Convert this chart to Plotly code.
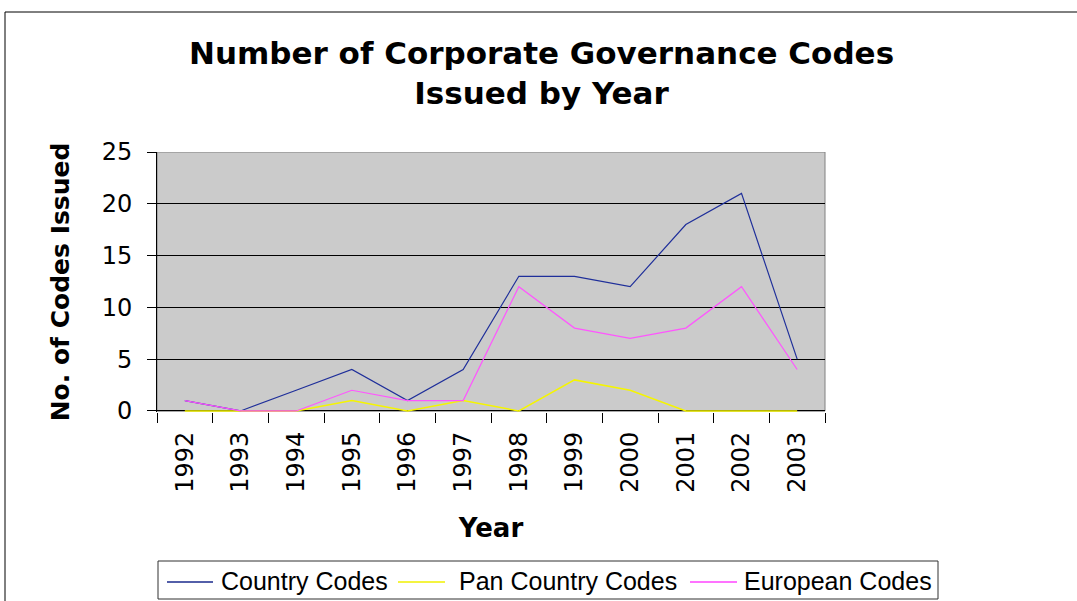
import plotly.graph_objects as go

years = ["1992", "1993", "1994", "1995", "1996", "1997", "1998", "1999", "2000", "2001", "2002", "2003"]
country_codes = [1, 0, 2, 4, 1, 4, 13, 13, 12, 18, 21, 5]
pan_country_codes = [0, 0, 0, 1, 0, 1, 0, 3, 2, 0, 0, 0]
european_codes = [1, 0, 0, 2, 1, 1, 12, 8, 7, 8, 12, 4]
series_names = ["Country Codes", "Pan Country Codes", "European Codes"]
series_colors = ["#1f2f9a", "#f5f500", "#ff55ff"]
legend_colors = ["#1a2a8c", "#f0f000", "#ff44ff"]

W, H = 1077, 601
L, R, T, B = 157, 825, 152, 412

def px_x(px):
    return (px - L) / (R - L)

def px_y(py):
    return (B - py) / (B - T)

fig = go.Figure()
for name, vals, col, w in zip(series_names, [country_codes, pan_country_codes, european_codes],
                              series_colors, [1.2, 1.5, 1.2]):
    fig.add_trace(go.Scatter(x=years, y=vals, mode="lines", name=name,
                             line=dict(color=col, width=w)))

font = "DejaVu Sans, Arial, sans-serif"
lfont = "Liberation Sans, Arial, sans-serif"

# manual legend (box spanning wider than the plot area, as in the reference)
leg_top, leg_bot, leg_left, leg_right = 561, 599, 158, 938
leg_line_x = [(167, 213), (398, 445), (690, 737)]
leg_text_x = [219, 457, 742]
leg_y = 581

shapes = [
    dict(type="rect", xref="paper", yref="y", x0=0, x1=1, y0=0, y1=25,
         line=dict(color="#808080", width=1), layer="below"),
    dict(type="line", xref="paper", yref="paper", x0=px_x(5), x1=px_x(5), y0=px_y(12), y1=px_y(601),
         line=dict(color="black", width=1)),
    dict(type="line", xref="paper", yref="paper", x0=px_x(5), x1=px_x(1077), y0=px_y(12), y1=px_y(12),
         line=dict(color="black", width=1)),
    dict(type="rect", xref="paper", yref="paper", x0=px_x(leg_left), x1=px_x(leg_right),
         y0=px_y(leg_bot), y1=px_y(leg_top), line=dict(color="#303030", width=1), fillcolor="white"),
]
annotations = [
    dict(text="<b>Number of Corporate Governance Codes<br>Issued by Year</b>",
         xref="paper", yref="paper", x=px_x(541), y=px_y(33), xanchor="center", yanchor="top",
         showarrow=False, font=dict(size=31, family=font)),
]
for (x0, x1), tx, name, col in zip(leg_line_x, leg_text_x, series_names, legend_colors):
    shapes.append(dict(type="line", xref="paper", yref="paper", x0=px_x(x0), x1=px_x(x1),
                       y0=px_y(leg_y + 1), y1=px_y(leg_y + 1), line=dict(color=col, width=1.3)))
    annotations.append(dict(text=name, xref="paper", yref="paper", x=px_x(tx), y=px_y(leg_y),
                            xanchor="left", yanchor="middle", showarrow=False,
                            font=dict(size=25, family=lfont, color="black")))

fig.update_layout(
    width=W, height=H,
    margin=dict(l=L, r=W - R, t=T, b=H - B, pad=0, autoexpand=False),
    paper_bgcolor="white",
    plot_bgcolor="#cbcbcb",
    font=dict(family=font, color="black", size=22),
    showlegend=False,
    xaxis=dict(type="category", range=[-0.5, 11.5], tickangle=-90, automargin=False,
               ticks="outside", ticklen=10, tickcolor="black", tickson="boundaries",
               showgrid=False, showline=False,
               ticklabelstandoff=14,
               tickfont=dict(size=24, family=font),
               title=dict(text="<b>Year</b>", font=dict(size=26, family=font), standoff=26)),
    yaxis=dict(range=[-0.1, 25], tickvals=[0, 5, 10, 15, 20, 25], automargin=False,
               ticks="outside", ticklen=9, tickcolor="black",
               showgrid=True, gridcolor="black", gridwidth=1,
               showline=True, linecolor="black", linewidth=1,
               zeroline=True, zerolinecolor="black", zerolinewidth=1,
               layer="below traces", ticklabelstandoff=10,
               tickfont=dict(size=24, family=font),
               title=dict(text="<b>No. of Codes Issued</b>", font=dict(size=25, family=font), standoff=24)),
    annotations=annotations,
    shapes=shapes,
)

fig.write_html("out.html")
